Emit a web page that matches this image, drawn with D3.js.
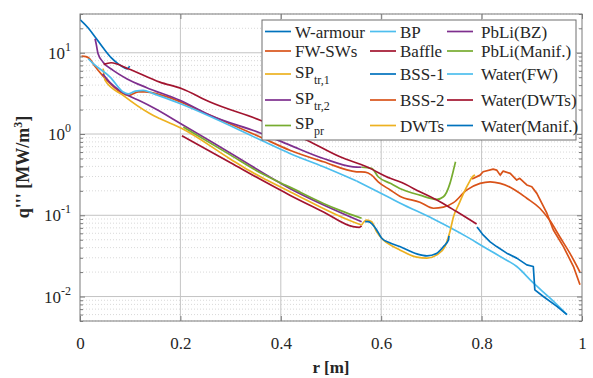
<!DOCTYPE html>
<html>
<head>
<meta charset="utf-8">
<script src="https://cdn.jsdelivr.net/npm/d3@7"></script>
<style>
  body { margin: 0; background: #fff; }
</style>
</head>
<body>
<div id="chart"></div>
<script>
// values: [r (m), q''' (MW/m3)]
const wArmour = [[0,25.6],[0.016,20.3],[0.029,16.0],[0.046,11.5],[0.062,8.7],[0.076,7.3],[0.089,6.5],[0.094,6.35],[0.099,6.85]];
const fwSws = [[0.003,9.1],[0.012,8.95],[0.019,8.45],[0.029,6.9],[0.046,5.15],[0.062,4.08],[0.082,3.23],[0.096,2.99],[0.116,3.30],[0.129,3.30],[0.169,2.93],[0.255,1.75],[0.359,0.92],[0.418,0.632],[0.485,0.455],[0.551,0.343],[0.568,0.340],[0.581,0.312],[0.594,0.258],[0.618,0.205],[0.637,0.172],[0.677,0.145],[0.704,0.122],[0.724,0.126],[0.744,0.143],[0.770,0.204],[0.797,0.247],[0.817,0.258],[0.837,0.247],[0.857,0.221],[0.890,0.162],[0.916,0.122],[0.936,0.086],[0.956,0.054],[0.976,0.034],[0.996,0.020]];
const spTr1 = [[0.046,6.4],[0.048,5.3],[0.050,4.57],[0.086,2.99],[0.139,1.79],[0.159,1.55],[0.203,1.17],[0.30,0.49],[0.335,0.36],[0.372,0.271],[0.418,0.195],[0.551,0.0798],[0.561,0.076]];
const spTr2 = [[0.045,5.5],[0.06,4.3],[0.08,3.4],[0.095,3.0],[0.12,2.55],[0.15,2.05],[0.2,1.35],[0.3,0.58],[0.418,0.214],[0.561,0.0834]];
const spPr = [[0.206,1.22],[0.30,0.55],[0.362,0.326],[0.418,0.222],[0.485,0.140],[0.518,0.115],[0.561,0.092]];
const bp = [[0.551,0.264],[0.618,0.163],[0.637,0.142],[0.704,0.090],[0.770,0.0546],[0.803,0.0412],[0.837,0.0311],[0.870,0.0234],[0.903,0.0147],[0.936,0.0096],[0.970,0.0060]];
const baffle = [[0.203,0.95],[0.30,0.444],[0.362,0.271],[0.418,0.177],[0.485,0.110],[0.544,0.0724],[0.556,0.0710],[0.561,0.074]];
const bss1 = [[0.791,0.0719],[0.803,0.0573],[0.817,0.047],[0.830,0.0412],[0.850,0.0342],[0.870,0.0297],[0.890,0.0245],[0.903,0.0234],[0.906,0.0121],[0.923,0.0100],[0.950,0.00756],[0.970,0.00598]];
const bss2 = [[0.781,0.28],[0.797,0.312],[0.803,0.343],[0.823,0.370],[0.830,0.360],[0.837,0.312],[0.843,0.350],[0.857,0.328],[0.870,0.271],[0.876,0.285],[0.890,0.236],[0.900,0.224],[0.910,0.186],[0.930,0.106],[0.943,0.066],[0.963,0.0412],[0.983,0.0234],[0.996,0.0140]];
const dwts = [[0.561,0.076],[0.571,0.0875],[0.581,0.0834],[0.591,0.0624],[0.604,0.0498],[0.618,0.0432],[0.637,0.0375],[0.671,0.0305],[0.691,0.0297],[0.711,0.0326],[0.727,0.0412],[0.737,0.063],[0.744,0.0962],[0.754,0.134],[0.764,0.186],[0.774,0.247],[0.783,0.303],[0.787,0.312]];
const pbliBz = [[0.030,14.9],[0.0325,12.6],[0.036,9.72],[0.046,7.67],[0.066,6.07],[0.093,4.80],[0.133,3.72],[0.199,2.60],[0.259,1.70],[0.359,1.03],[0.418,0.73],[0.485,0.50],[0.544,0.395],[0.561,0.39]];
const pbliManif = [[0.561,0.39],[0.581,0.377],[0.594,0.298],[0.618,0.247],[0.637,0.214],[0.677,0.177],[0.711,0.157],[0.724,0.169],[0.737,0.247],[0.744,0.36],[0.748,0.455]];
const waterFw = [[0.0165,8.44],[0.0265,7.33],[0.060,5.02],[0.086,3.29],[0.096,3.12],[0.110,3.38],[0.126,3.45],[0.146,3.14],[0.199,2.37],[0.359,0.85],[0.418,0.577],[0.485,0.395],[0.551,0.264]];
const waterDwts = [[0.047,7.2],[0.062,7.54],[0.096,6.37],[0.159,4.35],[0.203,3.61],[0.259,2.48],[0.359,1.48],[0.452,0.84],[0.518,0.524],[0.571,0.395],[0.618,0.285],[0.637,0.258],[0.677,0.195],[0.717,0.147],[0.750,0.111],[0.790,0.078]];
const waterManif = [[0.568,0.0834],[0.574,0.0834],[0.591,0.0661],[0.601,0.0522],[0.618,0.0457],[0.637,0.0412],[0.671,0.0335],[0.691,0.0317],[0.711,0.0342],[0.724,0.0412],[0.734,0.0498],[0.735,0.0557]];

// legend order (also drawing order)
const names = ["W-armour","FW-SWs","SP|tr,1","SP|tr,2","SP|pr","BP","Baffle","BSS-1","BSS-2","DWTs","PbLi(BZ)","PbLi(Manif.)","Water(FW)","Water(DWTs)","Water(Manif.)"];
const colors = ["#0072BD","#D95319","#EDB120","#7E2F8E","#77AC30","#4DBEEE","#A2142F","#0072BD","#D95319","#EDB120","#7E2F8E","#77AC30","#4DBEEE","#A2142F","#0072BD"];
const series = [wArmour,fwSws,spTr1,spTr2,spPr,bp,baffle,bss1,bss2,dwts,pbliBz,pbliManif,waterFw,waterDwts,waterManif];
const jagged = ["BSS-1","BSS-2"];

const xTicks = [0,0.2,0.4,0.6,0.8,1];
const yDecades = [0.01,0.1,1,10];
const yExp = ["-2","-1","0","1"];

const W = 593, H = 378;
const mLeft = 80, mRight = 582, mTop = 14, mBottom = 321;
const FONT = "Liberation Serif";

const svg = d3.select("#chart").append("svg")
  .attr("width", W).attr("height", H)
  .attr("font-family", FONT);

const x = d3.scaleLinear().domain([0,1]).range([mLeft,mRight]);
const y = d3.scaleLog().domain([0.005,30]).range([mBottom,mTop]);

const minorY = y.ticks().filter(v => !yDecades.some(d => Math.abs(d - v) < 1e-9));

// grid
const grid = svg.append("g");
grid.selectAll(".minor").data(minorY).enter().append("line")
  .attr("x1", mLeft).attr("x2", mRight)
  .attr("y1", d => y(d)).attr("y2", d => y(d))
  .attr("stroke", "#cfcfcf").attr("stroke-width", 0.8)
  .attr("stroke-dasharray", "1,2");
grid.selectAll(".majorY").data(yDecades).enter().append("line")
  .attr("x1", mLeft).attr("x2", mRight)
  .attr("y1", d => y(d)).attr("y2", d => y(d))
  .attr("stroke", "#c4c4c4").attr("stroke-width", 1);
grid.selectAll(".majorX").data(xTicks.slice(1,-1)).enter().append("line")
  .attr("y1", mTop).attr("y2", mBottom)
  .attr("x1", d => x(d)).attr("x2", d => x(d))
  .attr("stroke", "#c4c4c4").attr("stroke-width", 1);

// curves
svg.append("clipPath").attr("id","clip").append("rect")
  .attr("x", mLeft).attr("y", mTop).attr("width", mRight-mLeft).attr("height", mBottom-mTop);

const plot = svg.append("g").attr("clip-path","url(#clip)");
series.forEach((s, i) => {
  const line = d3.line()
    .x(d => x(d[0])).y(d => y(d[1]))
    .curve(jagged.includes(names[i]) ? d3.curveLinear : d3.curveMonotoneX);
  plot.append("path")
    .datum(s)
    .attr("d", line)
    .attr("fill","none")
    .attr("stroke", colors[i])
    .attr("stroke-width", 1.7)
    .attr("stroke-linejoin","round");
});

// axes
const axisColor = "#7a7a7a";
const gx = svg.append("g").attr("transform", `translate(0,${mBottom})`)
  .call(d3.axisBottom(x).tickValues(xTicks).tickSizeInner(-5).tickSizeOuter(0)
    .tickPadding(16).tickFormat(d => String(d)));
const gxt = svg.append("g").attr("transform", `translate(0,${mTop})`)
  .call(d3.axisTop(x).tickValues(xTicks).tickSizeInner(-5).tickSizeOuter(0).tickFormat(""));
const allY = yDecades.concat(minorY);
const gy = svg.append("g").attr("transform", `translate(${mLeft},0)`)
  .call(d3.axisLeft(y).tickValues(allY).tickSizeInner(-5).tickSizeOuter(0).tickFormat(""));
const gyr = svg.append("g").attr("transform", `translate(${mRight},0)`)
  .call(d3.axisRight(y).tickValues(allY).tickSizeInner(-5).tickSizeOuter(0).tickFormat(""));

[gy, gyr].forEach((g, k) => {
  g.selectAll(".tick line")
    .attr("x2", d => (yDecades.includes(d) ? 5 : 3) * (k === 0 ? 1 : -1));
});
[gx, gxt, gy, gyr].forEach(g => {
  g.attr("font-family", FONT).attr("font-size", 17);
  g.select(".domain").remove();
  g.selectAll(".tick line").attr("stroke", axisColor);
  g.selectAll("text").attr("fill", "#262626").attr("font-family", FONT);
});

svg.append("rect")
  .attr("x", mLeft).attr("y", mTop).attr("width", mRight-mLeft).attr("height", mBottom-mTop)
  .attr("fill","none").attr("stroke", axisColor).attr("stroke-width", 1);

// y tick labels 10^n
yDecades.forEach((d, i) => {
  const t = svg.append("text")
    .attr("x", 71).attr("y", y(d) + 6)
    .attr("font-family", FONT)
    .attr("text-anchor","end").attr("font-size", 17).attr("fill","#262626");
  t.append("tspan").text("10");
  t.append("tspan").attr("font-size", 12).attr("dy", -8).text(yExp[i]);
});

// axis titles
svg.append("text")
  .attr("x", (mLeft+mRight)/2).attr("y", 373)
  .attr("font-family", FONT)
  .attr("text-anchor","middle").attr("font-size", 17).attr("font-weight","bold")
  .attr("fill","#262626").text("r [m]");

const yl = svg.append("text")
  .attr("transform", "translate(29,167) rotate(-90)")
  .attr("font-family", FONT)
  .attr("text-anchor","middle").attr("font-size", 18).attr("font-weight","bold")
  .attr("fill","#262626");
yl.append("tspan").text("q''' [MW/m");
yl.append("tspan").attr("font-size", 12).attr("dy", -7).text("3");
yl.append("tspan").attr("dy", 7).text("]");

// legend
const rowY = [31.5, 51, 74, 100, 125.5];
const colX = [265, 370, 447];
const lineLen = 26;
const lg = svg.append("g");
lg.append("rect").attr("x", 262).attr("y", 20).attr("width", 314).attr("height", 120)
  .attr("fill","#fff").attr("stroke","#6e6e6e").attr("stroke-width", 1);
names.forEach((n, i) => {
  const c = Math.floor(i / 5), r = i % 5;
  const cx = colX[c], cy = rowY[r];
  lg.append("line").attr("x1", cx).attr("x2", cx + lineLen)
    .attr("y1", cy).attr("y2", cy)
    .attr("stroke", colors[i]).attr("stroke-width", 1.7);
  const parts = n.split("|");
  const t = lg.append("text").attr("x", cx + lineLen + 4 + (c === 2 ? 4 : 0))
    .attr("font-family", FONT)
    .attr("font-size", 17).attr("fill","#262626");
  if (parts.length > 1) {
    t.attr("y", cy + 3.5);
    t.append("tspan").text(parts[0]);
    t.append("tspan").attr("font-size", 12).attr("dy", 6).text(parts[1]);
  } else {
    t.attr("y", cy + 6).text(n);
  }
});
</script>
</body>
</html>
